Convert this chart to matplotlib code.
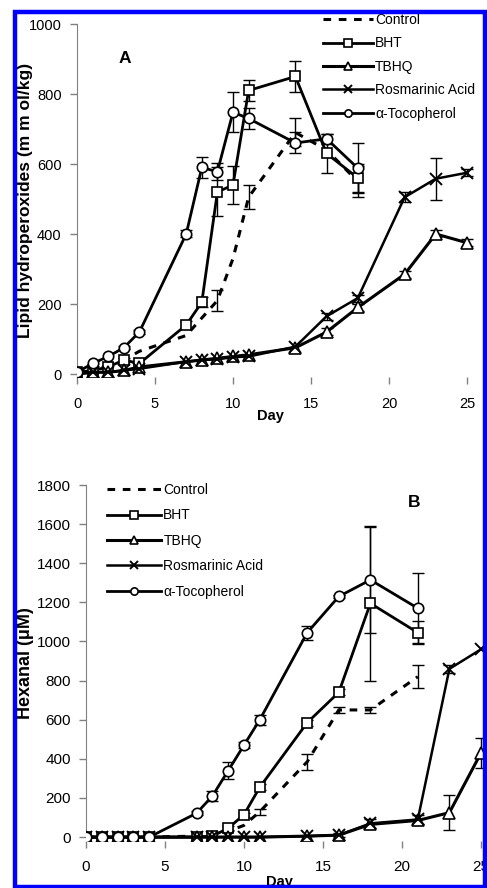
import numpy as np
import matplotlib.pyplot as plt
from matplotlib.patches import Rectangle

plt.rcParams['font.family'] = ['Liberation Sans', 'DejaVu Sans']

W, H = 487, 888

# ---- panel A: lipid hydroperoxides (mmol/kg) ----
days_a = [0, 1, 2, 3, 4, 7, 8, 9, 10, 11, 14, 16, 18]
days_a_long = days_a + [21, 23, 25]

control_a = [5, 15, 25, 40, 65, 110, 160, 210, 330, 505, 690, 640, 550]
control_a_err = [0, 0, 0, 0, 0, 0, 0, 30, 0, 35, 40, 0, 45]
bht_a = [5, 10, 20, 40, 30, 140, 205, 520, 540, 810, 850, 630, 560]
bht_a_err = [0, 0, 0, 5, 0, 10, 15, 70, 55, 30, 45, 55, 40]
tbhq_a = [0, 5, 5, 10, 20, 35, 40, 45, 50, 55, 75, 120, 190, 285, 400, 375]
tbhq_a_err = [0, 0, 0, 0, 0, 0, 0, 0, 0, 0, 0, 10, 10, 10, 10, 10]
rosm_a = [0, 5, 5, 10, 15, 35, 40, 42, 48, 50, 78, 165, 217, 505, 558, 575]
rosm_a_err = [0, 0, 0, 0, 0, 0, 0, 0, 0, 0, 0, 10, 10, 15, 60, 10]
toco_a = [5, 30, 50, 75, 120, 400, 590, 578, 748, 730, 660, 672, 588]
toco_a_err = [0, 0, 0, 5, 5, 10, 30, 25, 57, 30, 30, 15, 72]

# ---- panel B: hexanal (uM) ----
days_b = [0, 1, 2, 3, 4, 7, 8, 9, 10, 11, 14, 16, 18, 21]
days_b_long = days_b + [23, 25]

control_b = [0, 0, 0, 0, 0, 5, 10, 30, 60, 130, 385, 650, 650, 820]
control_b_err = [0, 0, 0, 0, 0, 0, 0, 0, 0, 15, 40, 15, 15, 60]
bht_b = [0, 0, 0, 0, 0, 0, 5, 45, 115, 255, 585, 740, 1195, 1045]
bht_b_err = [0, 0, 0, 0, 0, 0, 0, 10, 10, 15, 15, 15, 395, 60]
tbhq_b = [0, 0, 0, 0, 0, 0, 0, 0, 0, 0, 5, 10, 65, 85, 125, 430]
tbhq_b_err = [0, 0, 0, 0, 0, 0, 0, 0, 0, 0, 0, 0, 0, 0, 90, 75]
rosm_b = [0, 0, 0, 0, 0, 0, 0, 0, 0, 0, 5, 10, 70, 90, 860, 960]
rosm_b_err = [0, 0, 0, 0, 0, 0, 0, 0, 0, 0, 0, 10, 25, 25, 20, 0]
toco_b = [0, 0, 0, 0, 0, 122, 210, 340, 470, 600, 1045, 1230, 1315, 1170]
toco_b_err = [0, 0, 0, 0, 0, 10, 25, 43, 15, 25, 35, 10, 270, 180]

styles = {
    'Control': dict(lw=2.2, dashes=(2.5, 2.5), marker='None'),
    'BHT': dict(lw=2, marker='s', ms=7.5),
    'TBHQ': dict(lw=2.2, marker='^', ms=8.5),
    'Rosmarinic Acid': dict(lw=1.8, marker='x', ms=8, mew=1.4),
    'α-Tocopherol': dict(lw=2, marker='o', ms=7.5),
}


def draw_panel(ax, series):
    for label, x, y, err in series:
        st = dict(color='black', mfc='white', mec='black', mew=1.2)
        st.update(styles[label])
        ax.plot(x, y, label=label, zorder=3, **st)
        x = np.array(x)
        y = np.array(y)
        err = np.array(err)
        m = err > 0
        ax.errorbar(x[m], y[m], yerr=err[m], fmt='none', ecolor='black',
                    elinewidth=1, capsize=4, capthick=1, zorder=2)
    for s in ['top', 'right', 'bottom']:
        ax.spines[s].set_visible(False)
    ax.spines['left'].set_color('#808080')
    ax.tick_params(axis='both', colors='#808080', labelcolor='black',
                   length=5, width=1)
    ax.tick_params(axis='x', pad=9)
    ax.tick_params(axis='y', pad=6)
    ax.set_xticks([0, 5, 10, 15, 20, 25])


fig = plt.figure(figsize=(W / 100, H / 100), dpi=100)

# panel A
ax1 = fig.add_axes([77 / W, 1 - 377.5 / H, 405.6 / W, 353.5 / H])
draw_panel(ax1, [
    ('Control', days_a, control_a, control_a_err),
    ('BHT', days_a, bht_a, bht_a_err),
    ('TBHQ', days_a_long, tbhq_a, tbhq_a_err),
    ('Rosmarinic Acid', days_a_long, rosm_a, rosm_a_err),
    ('α-Tocopherol', days_a, toco_a, toco_a_err),
])
ax1.set_xlim(0, 26)
ax1.set_ylim(-10, 1000)
ax1.set_yticks(range(0, 1001, 200))
ax1.tick_params(labelsize=10.5)
ax1.set_xlabel('Day', fontsize=10.5, fontweight='bold')
ax1.xaxis.set_label_coords(0.478, -0.09)
ax1.set_ylabel('Lipid hydroperoxides (m m ol/kg)', fontsize=12.5,
               fontweight='bold', va='center')
ax1.yaxis.set_label_coords(-0.128, 0.5)
ax1.text(125, H - 58, 'A', transform=None, fontsize=12.5, fontweight='bold',
         ha='center', va='center')
ax1.legend(loc='upper left', bbox_to_anchor=(323 / W, 1 - 13 / H),
           bbox_transform=fig.transFigure, frameon=False, fontsize=10,
           borderpad=0, borderaxespad=0, handlelength=3.6,
           handletextpad=0.15, labelspacing=0.68, markerscale=0.7)

# panel B
ax2 = fig.add_axes([86 / W, 1 - 841 / H, 410.8 / W, 356 / H])
draw_panel(ax2, [
    ('Control', days_b, control_b, control_b_err),
    ('BHT', days_b, bht_b, bht_b_err),
    ('TBHQ', days_b_long, tbhq_b, tbhq_b_err),
    ('Rosmarinic Acid', days_b_long, rosm_b, rosm_b_err),
    ('α-Tocopherol', days_b, toco_b, toco_b_err),
])
ax2.set_xlim(0, 26)
ax2.set_ylim(-20, 1800)
ax2.set_yticks(range(0, 1801, 200))
ax2.tick_params(labelsize=11)
ax2.set_xlabel('Day', fontsize=10.5, fontweight='bold')
ax2.xaxis.set_label_coords(0.47, -0.095)
ax2.set_ylabel('Hexanal (μM)', fontsize=13, fontweight='bold', va='center')
ax2.yaxis.set_label_coords(-0.148, 0.5)
ax2.text(414, H - 502, 'B', transform=None, fontsize=12.5, fontweight='bold',
         ha='center', va='center')
ax2.legend(loc='upper left', bbox_to_anchor=(107 / W, 1 - 483 / H),
           bbox_transform=fig.transFigure, frameon=False, fontsize=10,
           borderpad=0, borderaxespad=0, handlelength=3.9,
           handletextpad=0.15, labelspacing=0.82, markerscale=0.7)

# blue frame round the picture
fig.add_artist(Rectangle((15.3 / W, 1 - 887 / H), 469.5 / W, 874.5 / H,
                         transform=fig.transFigure, fill=False,
                         edgecolor='#0000ff', lw=3.2, zorder=10))

fig.savefig('out.png', dpi=100)
